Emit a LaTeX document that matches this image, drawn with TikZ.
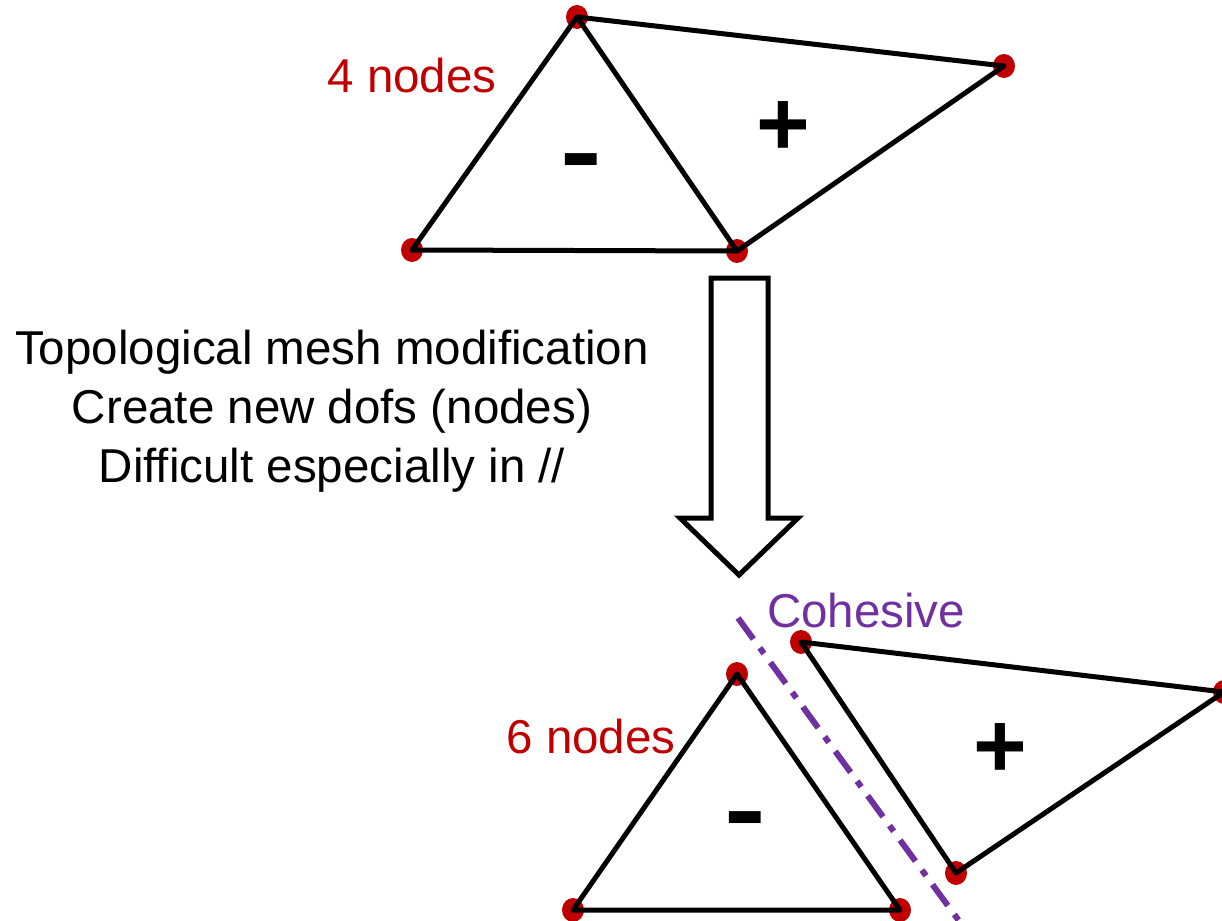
\documentclass[tikz,border=0pt]{standalone}
\usepackage{fontspec}
\setmainfont{Liberation Sans}
\usetikzlibrary{shapes.geometric}
\definecolor{nodered}{HTML}{C00000}
\definecolor{cohpurple}{HTML}{7030A0}
\begin{document}
\begin{tikzpicture}[x=1pt,y=-1pt,
  dotnode/.style={ellipse,fill=nodered,draw=none,minimum width=22pt,minimum height=24pt,inner sep=0pt},
  edge/.style={line width=5pt,line join=round},
  lbl/.style={font=\fontsize{47.5}{59}\selectfont,inner sep=0pt},
  minussign/.style={font=\fontsize{100}{100}\selectfont\bfseries,inner sep=0pt},
  plussign/.style={font=\fontsize{92}{92}\selectfont\bfseries,inner sep=0pt},
  bigarrow/.style={line width=5pt,fill=white,draw=black,line join=miter}]
\useasboundingbox (0,0) rectangle (1222,920);
% top mesh
\node[dotnode] (A) at (577,17) {};
\node[dotnode] (B) at (412,250) {};
\node[dotnode] (C) at (737,251) {};
\node[dotnode] (D) at (1004,66) {};
\draw[edge] (B.center) -- (A.center) -- (C.center) -- cycle;
\draw[edge] (A.center) -- (D.center) -- (C.center);
\node[lbl,text=nodered] (n4) at (412,76) {4 nodes};
\node[minussign] (m1) at (581,170) {\scalebox{1.25}[1]{-}};
\node[plussign] (p1) at (783,129) {+};
% arrow
\coordinate (a1) at (711,278);
\coordinate (a2) at (768,278);
\coordinate (a3) at (768,518);
\coordinate (a4) at (798,518);
\coordinate (a5) at (739,575);
\coordinate (a6) at (680,518);
\coordinate (a7) at (711,518);
\draw[bigarrow] (a1) -- (a2) -- (a3) -- (a4) -- (a5) -- (a6) -- (a7) -- cycle;
\node[lbl,align=center] (txt) at (332,411) {Topological mesh modification\\Create new dofs (nodes)\\Difficult especially in //};
% bottom mesh
\coordinate (c1) at (738,618);
\coordinate (c2) at (962,925);
\draw[cohpurple,line width=6pt,dash pattern=on 26pt off 11pt on 7pt off 11pt] (c1) -- (c2);
\node[dotnode] (E) at (737,674) {};
\node[dotnode] (F) at (573,910) {};
\node[dotnode] (G) at (900,910) {};
\node[dotnode] (H) at (801,642) {};
\node[dotnode] (I) at (956,873) {};
\node[dotnode] (J) at (1224,692) {};
\draw[edge] (F.center) -- (E.center) -- (G.center) -- cycle;
\draw[edge] (I.center) -- (H.center) -- (J.center) -- cycle;
\node[lbl,text=cohpurple] (coh) at (866,611) {Cohesive};
\node[lbl,text=nodered] (n6) at (591,737) {6 nodes};
\node[minussign] (m2) at (745,828) {\scalebox{1.25}[1]{-}};
\node[plussign] (p2) at (1000,751) {+};
\end{tikzpicture}
\end{document}
